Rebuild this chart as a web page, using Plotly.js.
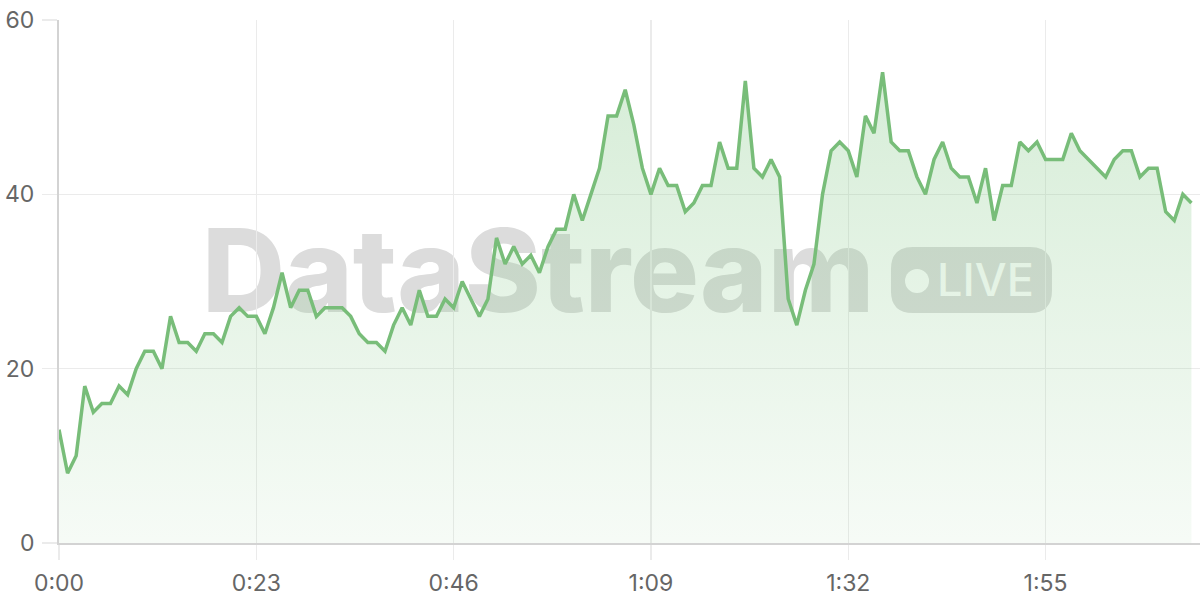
<!DOCTYPE html>
<html>
<head>
<meta charset="utf-8">
<script src="https://cdn.plot.ly/plotly-3.0.1.min.js"></script>
<style>
  html, body { margin: 0; padding: 0; background: #ffffff; }
  #chart { width: 1200px; height: 600px; }
</style>
</head>
<body>
<div id="chart"></div>
<script>
// Stream throughput, one reading per second
const values = [
  13, 8, 10, 18, 15, 16, 16, 18, 17, 20,
  22, 22, 20, 26, 23, 23, 22, 24, 24, 23,
  26, 27, 26, 26, 24, 27, 31, 27, 29, 29,
  26, 27, 27, 27, 26, 24, 23, 23, 22, 25,
  27, 25, 29, 26, 26, 28, 27, 30, 28, 26,
  28, 35, 32, 34, 32, 33, 31, 34, 36, 36,
  40, 37, 40, 43, 49, 49, 52, 48, 43, 40,
  43, 41, 41, 38, 39, 41, 41, 46, 43, 43,
  53, 43, 42, 44, 42, 28, 25, 29, 32, 40,
  45, 46, 45, 42, 49, 47, 54, 46, 45, 45,
  42, 40, 44, 46, 43, 42, 42, 39, 43, 37,
  41, 41, 46, 45, 46, 44, 44, 44, 47, 45,
  44, 43, 42, 44, 45, 45, 42, 43, 43, 38,
  37, 40, 39
];
const seconds = values.map((_, i) => i);

const tickSeconds = [0, 23, 46, 69, 92, 115];
const tickLabels = ['0:00', '0:23', '0:46', '1:09', '1:32', '1:55'];
const yTicks = [0, 20, 40, 60];

const FONT = 'Inter, "Liberation Sans", sans-serif';
const GRID = '#ebebeb';
const AXIS = '#d3d3d3';
const TEXT = '#666666';

const trace = {
  x: seconds,
  y: values,
  type: 'scatter',
  mode: 'lines',
  line: { color: '#78bd79', width: 3.5 },
  fill: 'tozeroy',
  fillgradient: {
    type: 'vertical',
    start: 0,
    stop: 54,
    colorscale: [
      [0, 'rgba(129,199,132,0.07)'],
      [1, 'rgba(129,199,132,0.32)']
    ]
  },
  hoverinfo: 'skip'
};

const axisCommon = {
  showgrid: true,
  gridcolor: GRID,
  gridwidth: 1.5,
  showline: true,
  linecolor: AXIS,
  linewidth: 2,
  zeroline: false,
  ticks: 'outside',
  ticklen: 15,
  tickwidth: 1.5,
  tickcolor: GRID,
  tickfont: { family: FONT, size: 23, color: TEXT },
  fixedrange: true
};

// watermark, drawn under the trace
const shapes = [
  {
    type: 'rect', xref: 'paper', yref: 'paper', layer: 'below',
    x0: 0.08, x1: 0.76, y0: 0.358, y1: 0.698,
    line: { width: 0 }, fillcolor: 'rgba(0,0,0,0)',
    label: {
      text: 'DataStream',
      textposition: 'middle center',
      font: { family: FONT, size: 115, color: '#dcdcdc', weight: 800 }
    }
  },
  {
    type: 'path', xref: 'paper', yref: 'paper', layer: 'below',
    xsizemode: 'pixel', ysizemode: 'pixel',
    xanchor: 0.7997, yanchor: 0.5029,
    path: 'M -58.5,-33 L 58.5,-33 Q 80.5,-33 80.5,-11 L 80.5,11 Q 80.5,33 58.5,33 ' +
          'L -58.5,33 Q -80.5,33 -80.5,11 L -80.5,-11 Q -80.5,-33 -58.5,-33 Z',
    line: { width: 0 }, fillcolor: '#dcdcdc'
  },
  {
    type: 'circle', xref: 'paper', yref: 'paper', layer: 'below',
    xsizemode: 'pixel', ysizemode: 'pixel',
    xanchor: 0.752, yanchor: 0.501,
    x0: -12, x1: 12, y0: -12, y1: 12,
    line: { width: 0 }, fillcolor: '#ffffff'
  },
  {
    type: 'rect', xref: 'paper', yref: 'paper', layer: 'below',
    x0: 0.762, x1: 0.862, y0: 0.45, y1: 0.56,
    line: { width: 0 }, fillcolor: 'rgba(0,0,0,0)',
    label: {
      text: 'LIVE',
      textposition: 'middle center',
      font: { family: FONT, size: 45, color: '#ffffff', weight: 500 }
    }
  }
];

const layout = {
  width: 1200,
  height: 600,
  margin: { l: 59, r: 0, t: 20, b: 57 },
  paper_bgcolor: '#ffffff',
  plot_bgcolor: '#ffffff',
  showlegend: false,
  xaxis: Object.assign({}, axisCommon, {
    range: [0, 133],
    tickmode: 'array',
    tickvals: tickSeconds,
    ticktext: tickLabels,
    ticklabelstandoff: 3
  }),
  yaxis: Object.assign({}, axisCommon, {
    range: [0, 60],
    tickmode: 'array',
    tickvals: yTicks,
    ticklabelstandoff: 3
  }),
  shapes: shapes
};

Plotly.newPlot('chart', [trace], layout, { displayModeBar: false, staticPlot: true });
</script>
</body>
</html>
